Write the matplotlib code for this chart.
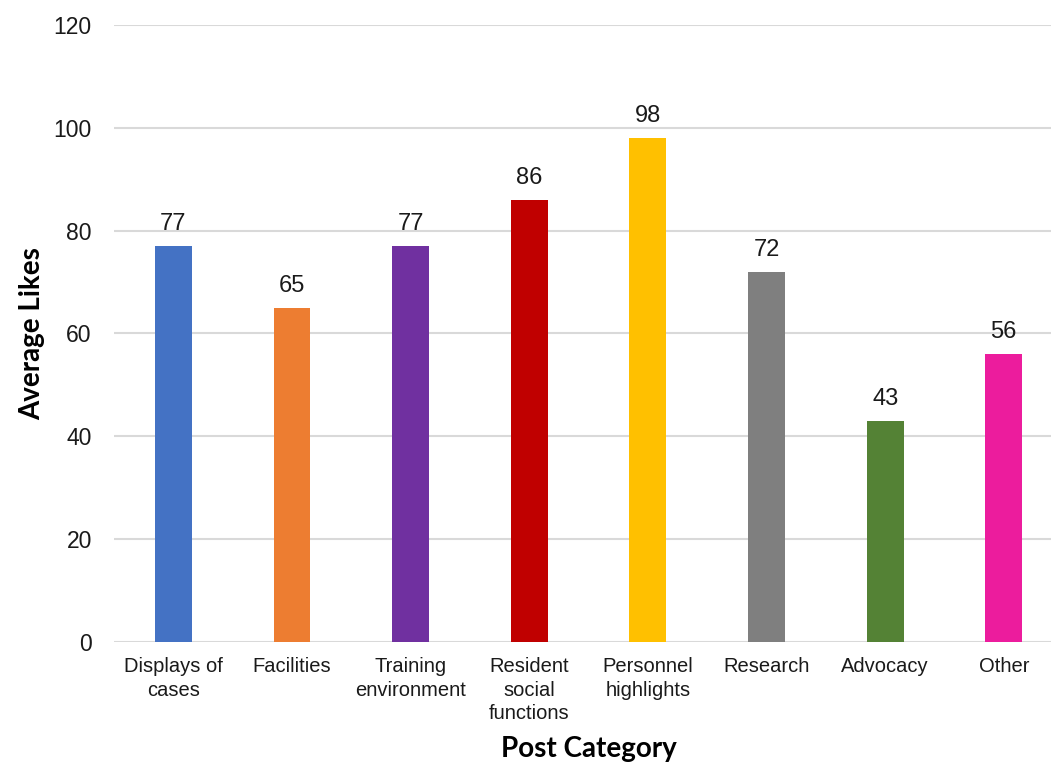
import matplotlib.pyplot as plt

categories = ['Displays of\ncases', 'Facilities', 'Training\nenvironment', 'Resident\nsocial\nfunctions',
              'Personnel\nhighlights', 'Research', 'Advocacy', 'Other']
avg_likes = [77, 65, 77, 86, 98, 72, 43, 56]
bar_colors = ['#4472C4', '#ED7D31', '#7030A0', '#C00000', '#FFC000', '#7F7F7F', '#548235', '#EC1C9D']
y_ticks = [0, 20, 40, 60, 80, 100, 120]

plt.rcParams['font.family'] = ['Liberation Sans', 'DejaVu Sans']

fig = plt.figure(figsize=(10.51, 7.64), dpi=100)
ax = fig.add_axes([0.1085, 0.1597, 0.903, 0.8076])

x = list(range(len(categories)))
bars = ax.bar(x, avg_likes, width=0.31, color=bar_colors, zorder=3)

# value labels above each bar
for b, v in zip(bars, avg_likes):
    ax.annotate(str(v), (b.get_x() + b.get_width() / 2, v), xytext=(0, 8), textcoords='offset points',
                ha='center', va='bottom', fontsize=17, color='#1a1a1a')

ax.set_xlim(-0.5, len(categories) - 0.5)
ax.set_ylim(0, 120)
ax.set_yticks(y_ticks)
ax.yaxis.grid(True, color='#d9d9d9', linewidth=1.5, zorder=0)
ax.set_axisbelow(True)
for s in ax.spines.values():
    s.set_visible(False)
ax.tick_params(axis='y', length=0, pad=16, labelsize=16.5, labelcolor='#1a1a1a')
ax.tick_params(axis='x', length=0, pad=11)
ax.set_xticks(x)
ax.set_xticklabels(categories, fontsize=14.5, linespacing=1.3, color='#1a1a1a')

ax.set_ylabel('Average Likes', fontsize=20, fontweight='bold', family=['Lato', 'DejaVu Sans'], labelpad=6)
ax.set_xlabel('Post Category', fontsize=20, fontweight='bold', family=['Lato', 'DejaVu Sans'], labelpad=9)

fig.savefig('out.png', dpi=100)
